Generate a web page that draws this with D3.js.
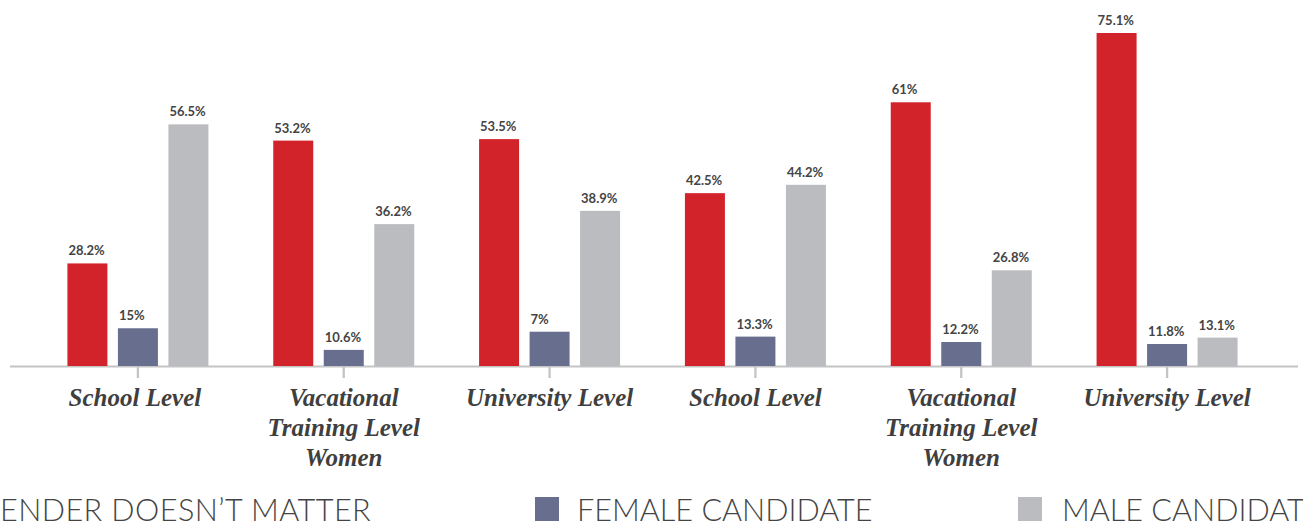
<!DOCTYPE html>
<html>
<head>
<meta charset="utf-8">
<script src="https://cdn.jsdelivr.net/npm/d3@7"></script>
<style>
  body { margin: 0; background: #fff; }
  svg { display: block; }
</style>
</head>
<body>
<svg width="1303" height="528"></svg>
<script>
const svg = d3.select("svg");
const width = +svg.attr("width");
const height = +svg.attr("height");

// data
const categories = [
  "School Level",
  "Vacational\nTraining Level\nWomen",
  "University Level",
  "School Level",
  "Vacational\nTraining Level\nWomen",
  "University Level"
];
const seriesNames = ["GENDER DOESN\u2019T MATTER", "FEMALE CANDIDATE", "MALE CANDIDATE"];
const genderNoMatter = [28.2, 53.2, 53.5, 42.5, 61, 75.1];
const femaleCandidate = [15, 10.6, 14.3, 13.3, 12.2, 11.8];
const maleCandidate = [56.5, 36.2, 38.9, 44.2, 26.8, 13.1];
const genderNoMatterText = ["28.2%", "53.2%", "53.5%", "42.5%", "61%", "75.1%"];
const femaleCandidateText = ["15%", "10.6%", "7%", "13.3%", "12.2%", "11.8%"];
const maleCandidateText = ["56.5%", "36.2%", "38.9%", "44.2%", "26.8%", "13.1%"];

const colors = ["#d2232a", "#676e8e", "#bbbcc0"];
const baseY = 366;

const series = [
  { name: seriesNames[0], values: genderNoMatter, text: genderNoMatterText },
  { name: seriesNames[1], values: femaleCandidate, text: femaleCandidateText },
  { name: seriesNames[2], values: maleCandidate, text: maleCandidateText }
];

const x0 = d3.scaleBand()
  .domain(categories.map((d, i) => i))
  .range([35, 1270]);

const x1 = d3.scaleBand()
  .domain(series.map((d, i) => i))
  .range([0, 141])
  .paddingInner(0.208);

const y = d3.scaleLinear()
  .domain([7.32, 75.1])
  .range([baseY, 33]);

// baseline
svg.append("line")
  .attr("x1", 10).attr("x2", 1298)
  .attr("y1", baseY + 0.5).attr("y2", baseY + 0.5)
  .attr("stroke", "#c4c4c6")
  .attr("stroke-width", 2);

// axis ticks + labels
const axis = svg.append("g")
  .attr("transform", `translate(0,${baseY})`)
  .call(d3.axisBottom(x0).tickSize(12).tickPadding(0).tickFormat(""));
axis.select(".domain").remove();
axis.selectAll(".tick line")
  .attr("stroke", "#c4c4c6")
  .attr("stroke-width", 2.3);

axis.selectAll(".tick").each(function(i) {
  const t = d3.select(this).append("text")
    .attr("fill", "#3f3f3f")
    .attr("text-anchor", "middle")
    .style("font-family", "'Liberation Serif', 'Times New Roman', serif")
    .style("font-style", "italic")
    .style("font-weight", "bold")
    .style("font-size", "25px");
  categories[i].split("\n").forEach((line, k) => {
    t.append("tspan")
      .attr("x", i === 0 ? -3 : 0)
      .attr("y", 40 + k * 30)
      .text(line);
  });
});

// bars
const groups = svg.append("g")
  .selectAll("g")
  .data(categories)
  .join("g")
  .attr("transform", (d, i) => `translate(${x0(i) + x0.bandwidth() / 2 - 70.5},0)`);

groups.selectAll("rect")
  .data((d, i) => series.map((s, k) => ({ k, v: s.values[i], t: s.text[i] })))
  .join("rect")
  .attr("x", d => x1(d.k))
  .attr("y", d => y(d.v))
  .attr("width", x1.bandwidth())
  .attr("height", d => baseY - y(d.v))
  .attr("fill", d => colors[d.k]);

groups.selectAll("text.val")
  .data((d, i) => series.map((s, k) => ({ k, v: s.values[i], t: s.text[i] })))
  .join("text")
  .attr("class", "val")
  .attr("x", d => x1(d.k) + 1)
  .attr("y", d => y(d.v) - 8)
  .attr("fill", "#444")
  .style("font-family", "Lato, 'Open Sans', sans-serif")
  .style("font-weight", "bold")
  .style("font-size", "13px")
  .text(d => d.t);

// legend
const legendX = [-65, 535, 1018];
const legendGap = [42, 42, 44];
const legendSpacing = [0.45, 0, 0];
const legend = svg.append("g")
  .selectAll("g")
  .data(series)
  .join("g")
  .attr("transform", (d, i) => `translate(${legendX[i]},497)`);

legend.append("rect")
  .attr("width", 24)
  .attr("height", 24)
  .attr("fill", (d, i) => colors[i]);

legend.append("text")
  .attr("x", (d, i) => legendGap[i])
  .attr("y", 24)
  .attr("fill", "#444")
  .style("font-family", "Lato, 'Open Sans', sans-serif")
  .style("font-weight", 300)
  .style("font-size", "30.6px")
  .style("letter-spacing", (d, i) => legendSpacing[i] + "px")
  .text(d => d.name);
</script>
</body>
</html>
